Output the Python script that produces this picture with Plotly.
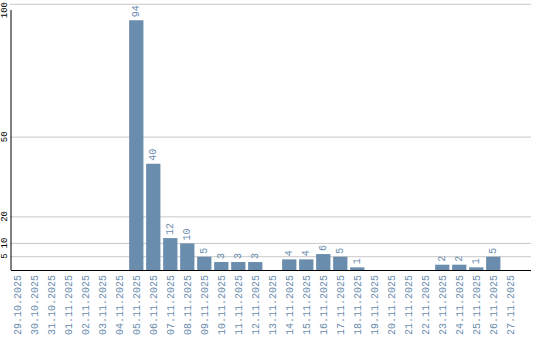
import plotly.graph_objects as go

dates = ["29.10.2025", "30.10.2025", "31.10.2025", "01.11.2025", "02.11.2025",
         "03.11.2025", "04.11.2025", "05.11.2025", "06.11.2025", "07.11.2025",
         "08.11.2025", "09.11.2025", "10.11.2025", "11.11.2025", "12.11.2025",
         "13.11.2025", "14.11.2025", "15.11.2025", "16.11.2025", "17.11.2025",
         "18.11.2025", "19.11.2025", "20.11.2025", "21.11.2025", "22.11.2025",
         "23.11.2025", "24.11.2025", "25.11.2025", "26.11.2025", "27.11.2025"]
values = [0, 0, 0, 0, 0, 0, 0, 94, 40, 12, 10, 5, 3, 3, 3, 0, 4, 4, 6, 5, 1,
          0, 0, 0, 0, 2, 2, 1, 5, 0]
y_ticks = [5, 10, 20, 50, 100]

BAR = "#6a8cad"
FONT = "Liberation Mono"

labels = [str(v) if v else "" for v in values]

fig = go.Figure(go.Bar(
    x=dates, y=values, marker_color=BAR, marker_line_width=0,
    text=labels, textposition="outside", textangle=-90,
    textfont=dict(family=FONT, size=10, color=BAR), cliponaxis=False,
))

shapes = [dict(type="line", xref="paper", yref="y", x0=-0.002, x1=1, y0=t, y1=t,
               layer="below", line=dict(color="#c8c8c8", width=1)) for t in y_ticks]
shapes.append(dict(type="line", xref="paper", yref="y", x0=0, x1=0, y0=0, y1=97.85,
                   line=dict(color="black", width=1)))

annotations = [dict(text=str(t), xref="paper", yref="y", x=-0.0115, y=t,
                    xanchor="center",
                    yanchor="top" if t == max(y_ticks) else "middle",
                    yshift=4 if t == max(y_ticks) else 0,
                    textangle=-90, showarrow=False,
                    font=dict(family=FONT, size=9, color="black"))
               for t in y_ticks]

fig.update_layout(
    template="none",
    width=540, height=340, margin=dict(l=11, r=9, t=0, b=70),
    plot_bgcolor="white", paper_bgcolor="white", showlegend=False,
    bargap=0.16,
    xaxis=dict(type="category", range=[-0.37, 30.22], showgrid=False,
               automargin=False,
               showline=True, linecolor="black", linewidth=1,
               tickangle=-90, tickfont=dict(family=FONT, size=10, color=BAR),
               ticks="", ticklen=0),
    yaxis=dict(range=[0, 101.6], showticklabels=False, automargin=False,
               showgrid=False, zeroline=False, showline=False, ticks=""),
    shapes=shapes,
    annotations=annotations,
)

fig.write_html("out.html")
